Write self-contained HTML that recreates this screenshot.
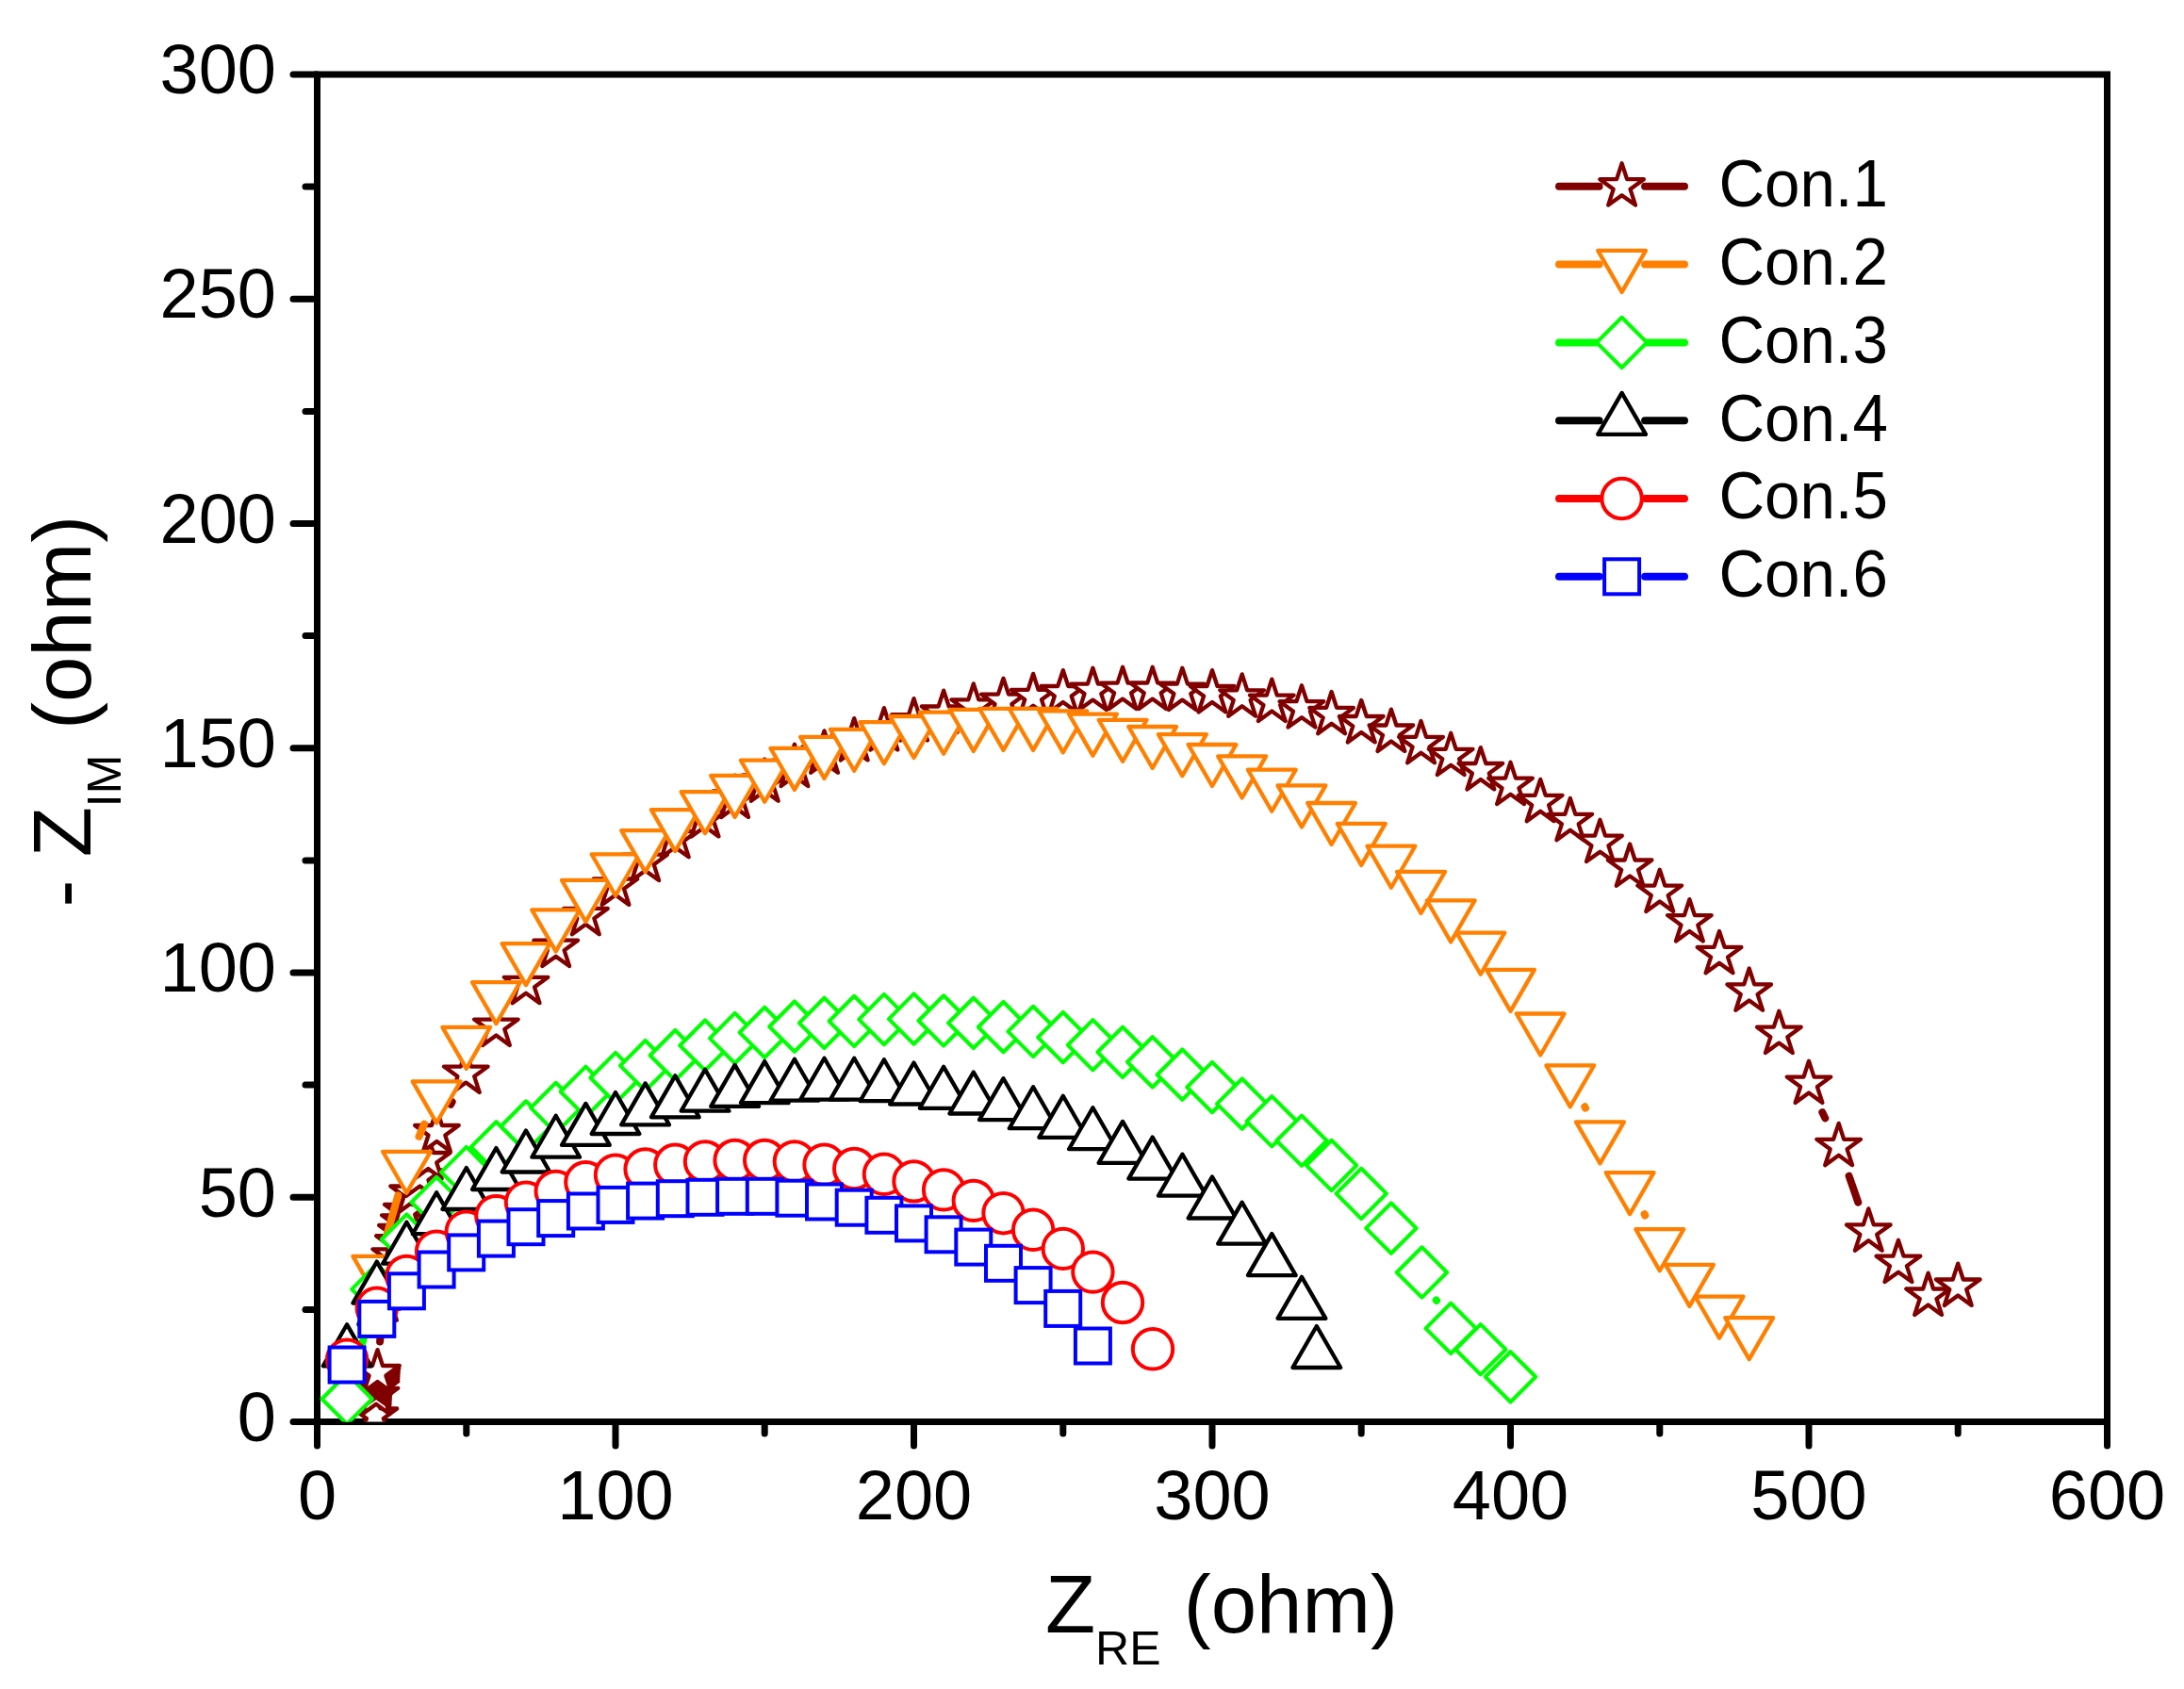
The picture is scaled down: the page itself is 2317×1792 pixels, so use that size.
<!DOCTYPE html>
<html><head><meta charset="utf-8"><title>Nyquist plot</title>
<style>html,body{margin:0;padding:0;background:#fff}svg{display:block}</style></head>
<body>
<svg width="2317" height="1792" viewBox="0 0 2317 1792">
<rect width="2317" height="1792" fill="#fff"/>
<defs><clipPath id="cp"><rect x="336.5" y="79.0" width="1899.0" height="1429.5"/></clipPath></defs>
<path d="M336.5 79.0H2235.5V1508.5H336.5Z" fill="none" stroke="#000" stroke-width="7" stroke-linejoin="miter"/>
<path d="M336.5 1508.5H311.0M336.5 1389.4H324.0M336.5 1270.2H311.0M336.5 1151.1H324.0M336.5 1032.0H311.0M336.5 912.9H324.0M336.5 793.8H311.0M336.5 674.6H324.0M336.5 555.5H311.0M336.5 436.4H324.0M336.5 317.2H311.0M336.5 198.1H324.0M336.5 79.0H311.0M336.5 1508.5V1534.0M494.8 1508.5V1521.0M653.0 1508.5V1534.0M811.2 1508.5V1521.0M969.5 1508.5V1534.0M1127.8 1508.5V1521.0M1286.0 1508.5V1534.0M1444.2 1508.5V1521.0M1602.5 1508.5V1534.0M1760.8 1508.5V1521.0M1919.0 1508.5V1534.0M2077.2 1508.5V1521.0M2235.5 1508.5V1534.0" fill="none" stroke="#000" stroke-width="7" stroke-linecap="round"/>
<g font-family="Liberation Sans, sans-serif" font-size="74" fill="#000">
<text x="293" y="1528.7" text-anchor="end">0</text>
<text x="293" y="1290.5" text-anchor="end">50</text>
<text x="293" y="1052.2" text-anchor="end">100</text>
<text x="293" y="814.0" text-anchor="end">150</text>
<text x="293" y="575.7" text-anchor="end">200</text>
<text x="293" y="337.4" text-anchor="end">250</text>
<text x="293" y="99.2" text-anchor="end">300</text>
<text x="336.5" y="1612" text-anchor="middle">0</text>
<text x="653.0" y="1612" text-anchor="middle">100</text>
<text x="969.5" y="1612" text-anchor="middle">200</text>
<text x="1286.0" y="1612" text-anchor="middle">300</text>
<text x="1602.5" y="1612" text-anchor="middle">400</text>
<text x="1919.0" y="1612" text-anchor="middle">500</text>
<text x="2235.5" y="1612" text-anchor="middle">600</text>
</g>
<text font-family="Liberation Sans, sans-serif" font-size="87" fill="#000" x="1108.9" y="1732.2">Z<tspan font-size="50" dy="33.8">RE</tspan><tspan dy="-33.8"> (ohm)</tspan></text>
<text font-family="Liberation Sans, sans-serif" font-size="87" fill="#000" transform="translate(95.5 962.5) rotate(-90)">- Z<tspan font-size="50" dy="32.5">IM</tspan><tspan dy="-32.5" dx="2.5"> (ohm)</tspan></text>
<g clip-path="url(#cp)">
<path d="M403.1 1423.5L403.9 1414.1M478.1 1171.8L479.6 1169.0M1933.3 1180.1L1936.3 1186.4M1961.6 1247.7L1971.3 1275.6" fill="none" stroke="#800000" stroke-width="8.0" stroke-linecap="round"/>
<g fill="#fff" stroke="#800000" stroke-width="4.3" stroke-linejoin="round" >
<path d="M397.9 1477.5L403.4 1494.4L421.2 1494.4L406.8 1504.9L412.3 1521.8L397.9 1511.4L383.4 1521.8L388.9 1504.9L374.5 1494.4L392.3 1494.4Z"/>
<path d="M399.0 1455.9L404.5 1472.8L422.3 1472.8L407.9 1483.3L413.4 1500.2L399.0 1489.8L384.6 1500.2L390.1 1483.3L375.7 1472.8L393.5 1472.8Z"/>
<path d="M399.0 1448.5L404.5 1465.4L422.3 1465.4L407.9 1475.9L413.4 1492.8L399.0 1482.4L384.6 1492.8L390.1 1475.9L375.7 1465.4L393.5 1465.4Z"/>
<path d="M399.1 1445.7L404.6 1462.6L422.4 1462.6L408.0 1473.1L413.5 1490.0L399.1 1479.6L384.7 1490.0L390.2 1473.1L375.8 1462.6L393.6 1462.6Z"/>
<path d="M399.2 1443.0L404.7 1459.9L422.5 1459.9L408.1 1470.4L413.6 1487.3L399.2 1476.9L384.8 1487.3L390.3 1470.4L375.9 1459.9L393.7 1459.9Z"/>
<path d="M399.3 1440.5L404.8 1457.4L422.6 1457.4L408.2 1467.9L413.7 1484.8L399.3 1474.4L384.9 1484.8L390.4 1467.9L376.0 1457.4L393.8 1457.4Z"/>
<path d="M399.5 1438.0L405.0 1454.9L422.8 1454.9L408.4 1465.4L413.9 1482.3L399.5 1471.9L385.1 1482.3L390.6 1465.4L376.2 1454.9L394.0 1454.9Z"/>
<path d="M400.0 1435.0L405.5 1451.9L423.3 1451.9L408.9 1462.4L414.4 1479.3L400.0 1468.9L385.6 1479.3L391.1 1462.4L376.7 1451.9L394.5 1451.9Z"/>
<path d="M400.5 1432.1L406.0 1449.0L423.8 1449.0L409.4 1459.5L414.9 1476.4L400.5 1466.0L386.1 1476.4L391.6 1459.5L377.2 1449.0L395.0 1449.0Z"/>
<path d="M406.5 1356.5L412.0 1373.4L429.8 1373.4L415.4 1383.9L420.9 1400.8L406.5 1390.4L392.1 1400.8L397.6 1383.9L383.2 1373.4L401.0 1373.4Z"/>
<path d="M409.5 1344.5L415.0 1361.4L432.8 1361.4L418.4 1371.9L423.9 1388.8L409.5 1378.4L395.1 1388.8L400.6 1371.9L386.2 1361.4L404.0 1361.4Z"/>
<path d="M412.5 1332.5L418.0 1349.4L435.8 1349.4L421.4 1359.9L426.9 1376.8L412.5 1366.4L398.1 1376.8L403.6 1359.9L389.2 1349.4L407.0 1349.4Z"/>
<path d="M415.5 1320.5L421.0 1337.4L438.8 1337.4L424.4 1347.9L429.9 1364.8L415.5 1354.4L401.1 1364.8L406.6 1347.9L392.2 1337.4L410.0 1337.4Z"/>
<path d="M418.7 1308.4L424.2 1325.3L442.0 1325.3L427.6 1335.8L433.1 1352.7L418.7 1342.3L404.3 1352.7L409.8 1335.8L395.4 1325.3L413.2 1325.3Z"/>
<path d="M422.4 1294.3L427.9 1311.2L445.7 1311.2L431.3 1321.7L436.8 1338.6L422.4 1328.2L408.0 1338.6L413.5 1321.7L399.1 1311.2L416.9 1311.2Z"/>
<path d="M425.4 1283.1L430.9 1300.0L448.7 1300.0L434.3 1310.5L439.8 1327.4L425.4 1317.0L411.0 1327.4L416.5 1310.5L402.1 1300.0L419.9 1300.0Z"/>
<path d="M428.4 1272.4L433.9 1289.3L451.7 1289.3L437.3 1299.8L442.8 1316.7L428.4 1306.3L414.0 1316.7L419.5 1299.8L405.1 1289.3L422.9 1289.3Z"/>
<path d="M431.3 1261.1L436.8 1278.0L454.6 1278.0L440.2 1288.5L445.7 1305.4L431.3 1295.0L416.9 1305.4L422.4 1288.5L408.0 1278.0L425.8 1278.0Z"/>
<path d="M437.6 1241.6L443.1 1258.5L460.9 1258.5L446.5 1269.0L452.0 1285.9L437.6 1275.5L423.2 1285.9L428.7 1269.0L414.3 1258.5L432.1 1258.5Z"/>
<path d="M445.5 1224.5L451.0 1241.4L468.8 1241.4L454.4 1251.9L459.9 1268.8L445.5 1258.4L431.1 1268.8L436.6 1251.9L422.2 1241.4L440.0 1241.4Z"/>
<path d="M454.3 1206.1L459.8 1223.0L477.6 1223.0L463.2 1233.5L468.7 1250.4L454.3 1240.0L439.9 1250.4L445.4 1233.5L431.0 1223.0L448.8 1223.0Z"/>
<path d="M463.4 1177.1L468.9 1194.0L486.7 1194.0L472.3 1204.5L477.8 1221.4L463.4 1211.0L449.0 1221.4L454.5 1204.5L440.1 1194.0L457.9 1194.0Z"/>
<path d="M494.3 1114.7L499.8 1131.6L517.6 1131.6L503.2 1142.1L508.7 1159.0L494.3 1148.6L479.9 1159.0L485.4 1142.1L471.0 1131.6L488.8 1131.6Z"/>
<path d="M526.4 1064.7L531.9 1081.6L549.7 1081.6L535.3 1092.1L540.8 1109.0L526.4 1098.5L512.0 1109.0L517.5 1092.1L503.1 1081.6L520.9 1081.6Z"/>
<path d="M558.0 1019.9L563.6 1036.8L581.4 1036.8L567.0 1047.3L572.5 1064.2L558.0 1053.7L543.6 1064.2L549.1 1047.3L534.7 1036.8L552.5 1036.8Z"/>
<path d="M589.7 980.8L595.2 997.7L613.0 997.7L598.6 1008.2L604.1 1025.1L589.7 1014.7L575.3 1025.1L580.8 1008.2L566.4 997.7L584.2 997.7Z"/>
<path d="M621.4 947.0L626.9 963.9L644.7 963.9L630.3 974.4L635.8 991.3L621.4 980.8L606.9 991.3L612.4 974.4L598.0 963.9L615.8 963.9Z"/>
<path d="M653.0 915.5L658.5 932.5L676.3 932.5L661.9 942.9L667.4 959.9L653.0 949.4L638.6 959.9L644.1 942.9L629.7 932.5L647.5 932.5Z"/>
<path d="M684.6 889.8L690.2 906.7L708.0 906.7L693.6 917.2L699.1 934.1L684.6 923.7L670.2 934.1L675.7 917.2L661.3 906.7L679.1 906.7Z"/>
<path d="M716.3 865.0L721.8 882.0L739.6 882.0L725.2 892.4L730.7 909.3L716.3 898.9L701.9 909.3L707.4 892.4L693.0 882.0L710.8 882.0Z"/>
<path d="M748.0 843.1L753.5 860.0L771.3 860.0L756.9 870.5L762.4 887.4L748.0 877.0L733.5 887.4L739.0 870.5L724.6 860.0L742.4 860.0Z"/>
<path d="M779.6 822.6L785.1 839.5L802.9 839.5L788.5 850.0L794.0 866.9L779.6 856.5L765.2 866.9L770.7 850.0L756.3 839.5L774.1 839.5Z"/>
<path d="M811.2 805.5L816.8 822.4L834.6 822.4L820.2 832.9L825.7 849.8L811.2 839.3L796.8 849.8L802.3 832.9L787.9 822.4L805.7 822.4Z"/>
<path d="M842.9 789.7L848.4 806.7L866.2 806.7L851.8 817.1L857.3 834.1L842.9 823.6L828.5 834.1L834.0 817.1L819.6 806.7L837.4 806.7Z"/>
<path d="M874.5 775.4L880.1 792.4L897.9 792.4L883.5 802.8L889.0 819.8L874.5 809.3L860.1 819.8L865.6 802.8L851.2 792.4L869.0 792.4Z"/>
<path d="M906.2 762.1L911.7 779.0L929.5 779.0L915.1 789.5L920.6 806.4L906.2 796.0L891.8 806.4L897.3 789.5L882.9 779.0L900.7 779.0Z"/>
<path d="M937.9 751.1L943.4 768.1L961.2 768.1L946.8 778.5L952.3 795.5L937.9 785.0L923.4 795.5L928.9 778.5L914.5 768.1L932.3 768.1Z"/>
<path d="M969.5 741.1L975.0 758.1L992.8 758.1L978.4 768.5L983.9 785.5L969.5 775.0L955.1 785.5L960.6 768.5L946.2 758.1L964.0 758.1Z"/>
<path d="M1001.1 732.6L1006.7 749.5L1024.5 749.5L1010.1 760.0L1015.6 776.9L1001.1 766.4L986.7 776.9L992.2 760.0L977.8 749.5L995.6 749.5Z"/>
<path d="M1032.8 725.4L1038.3 742.3L1056.1 742.3L1041.7 752.8L1047.2 769.7L1032.8 759.3L1018.4 769.7L1023.9 752.8L1009.5 742.3L1027.3 742.3Z"/>
<path d="M1064.5 719.7L1070.0 736.6L1087.8 736.6L1073.4 747.1L1078.9 764.0L1064.5 753.6L1050.0 764.0L1055.5 747.1L1041.1 736.6L1058.9 736.6Z"/>
<path d="M1096.1 714.9L1101.6 731.9L1119.4 731.9L1105.0 742.3L1110.5 759.2L1096.1 748.8L1081.7 759.2L1087.2 742.3L1072.8 731.9L1090.6 731.9Z"/>
<path d="M1127.8 711.1L1133.3 728.0L1151.1 728.0L1136.7 738.5L1142.2 755.4L1127.8 745.0L1113.3 755.4L1118.8 738.5L1104.4 728.0L1122.2 728.0Z"/>
<path d="M1159.4 708.7L1164.9 725.7L1182.7 725.7L1168.3 736.1L1173.8 753.1L1159.4 742.6L1145.0 753.1L1150.5 736.1L1136.1 725.7L1153.9 725.7Z"/>
<path d="M1191.0 707.8L1196.6 724.7L1214.4 724.7L1200.0 735.2L1205.5 752.1L1191.0 741.6L1176.6 752.1L1182.1 735.2L1167.7 724.7L1185.5 724.7Z"/>
<path d="M1222.7 707.8L1228.2 724.7L1246.0 724.7L1231.6 735.2L1237.1 752.1L1222.7 741.6L1208.3 752.1L1213.8 735.2L1199.4 724.7L1217.2 724.7Z"/>
<path d="M1254.3 708.7L1259.9 725.7L1277.7 725.7L1263.3 736.1L1268.8 753.1L1254.3 742.6L1239.9 753.1L1245.4 736.1L1231.0 725.7L1248.8 725.7Z"/>
<path d="M1286.0 711.1L1291.5 728.0L1309.3 728.0L1294.9 738.5L1300.4 755.4L1286.0 745.0L1271.6 755.4L1277.1 738.5L1262.7 728.0L1280.5 728.0Z"/>
<path d="M1317.7 715.4L1323.2 732.3L1341.0 732.3L1326.6 742.8L1332.1 759.7L1317.7 749.3L1303.2 759.7L1308.7 742.8L1294.3 732.3L1312.1 732.3Z"/>
<path d="M1349.3 720.6L1354.8 737.6L1372.6 737.6L1358.2 748.0L1363.7 765.0L1349.3 754.5L1334.9 765.0L1340.4 748.0L1326.0 737.6L1343.8 737.6Z"/>
<path d="M1381.0 727.3L1386.5 744.2L1404.3 744.2L1389.9 754.7L1395.4 771.6L1381.0 761.2L1366.5 771.6L1372.0 754.7L1357.6 744.2L1375.4 744.2Z"/>
<path d="M1412.6 734.0L1418.1 750.9L1435.9 750.9L1421.5 761.4L1427.0 778.3L1412.6 767.8L1398.2 778.3L1403.7 761.4L1389.3 750.9L1407.1 750.9Z"/>
<path d="M1444.2 743.0L1449.8 760.0L1467.6 760.0L1453.2 770.4L1458.7 787.4L1444.2 776.9L1429.8 787.4L1435.3 770.4L1420.9 760.0L1438.7 760.0Z"/>
<path d="M1475.9 752.6L1481.4 769.5L1499.2 769.5L1484.8 780.0L1490.3 796.9L1475.9 786.4L1461.5 796.9L1467.0 780.0L1452.6 769.5L1470.4 769.5Z"/>
<path d="M1507.5 765.0L1513.1 781.9L1530.9 781.9L1516.5 792.4L1522.0 809.3L1507.5 798.8L1493.1 809.3L1498.6 792.4L1484.2 781.9L1502.0 781.9Z"/>
<path d="M1539.2 777.8L1544.7 794.8L1562.5 794.8L1548.1 805.2L1553.6 822.1L1539.2 811.7L1524.8 822.1L1530.3 805.2L1515.9 794.8L1533.7 794.8Z"/>
<path d="M1570.8 793.1L1576.4 810.0L1594.2 810.0L1579.8 820.5L1585.3 837.4L1570.8 826.9L1556.4 837.4L1561.9 820.5L1547.5 810.0L1565.3 810.0Z"/>
<path d="M1602.5 808.8L1608.0 825.7L1625.8 825.7L1611.4 836.2L1616.9 853.1L1602.5 842.7L1588.1 853.1L1593.6 836.2L1579.2 825.7L1597.0 825.7Z"/>
<path d="M1634.2 826.9L1639.7 843.8L1657.5 843.8L1643.1 854.3L1648.6 871.2L1634.2 860.8L1619.7 871.2L1625.2 854.3L1610.8 843.8L1628.6 843.8Z"/>
<path d="M1665.8 846.9L1671.3 863.8L1689.1 863.8L1674.7 874.3L1680.2 891.2L1665.8 880.8L1651.4 891.2L1656.9 874.3L1642.5 863.8L1660.3 863.8Z"/>
<path d="M1697.5 869.8L1703.0 886.7L1720.8 886.7L1706.4 897.2L1711.9 914.1L1697.5 903.7L1683.0 914.1L1688.5 897.2L1674.1 886.7L1691.9 886.7Z"/>
<path d="M1729.1 895.5L1734.6 912.5L1752.4 912.5L1738.0 922.9L1743.5 939.8L1729.1 929.4L1714.7 939.8L1720.2 922.9L1705.8 912.5L1723.6 912.5Z"/>
<path d="M1760.8 922.7L1766.3 939.6L1784.1 939.6L1769.7 950.1L1775.2 967.0L1760.8 956.5L1746.3 967.0L1751.8 950.1L1737.4 939.6L1755.2 939.6Z"/>
<path d="M1792.4 954.1L1797.9 971.1L1815.7 971.1L1801.3 981.5L1806.8 998.5L1792.4 988.0L1778.0 998.5L1783.5 981.5L1769.1 971.1L1786.9 971.1Z"/>
<path d="M1824.0 988.0L1829.6 1004.9L1847.4 1004.9L1833.0 1015.4L1838.5 1032.3L1824.0 1021.8L1809.6 1032.3L1815.1 1015.4L1800.7 1004.9L1818.5 1004.9Z"/>
<path d="M1855.7 1027.5L1861.2 1044.4L1879.0 1044.4L1864.6 1054.9L1870.1 1071.8L1855.7 1061.4L1841.3 1071.8L1846.8 1054.9L1832.4 1044.4L1850.2 1044.4Z"/>
<path d="M1887.3 1072.8L1892.9 1089.7L1910.7 1089.7L1896.3 1100.2L1901.8 1117.1L1887.3 1106.6L1872.9 1117.1L1878.4 1100.2L1864.0 1089.7L1881.8 1089.7Z"/>
<path d="M1919.0 1125.7L1924.5 1142.6L1942.3 1142.6L1927.9 1153.1L1933.4 1170.0L1919.0 1159.5L1904.6 1170.0L1910.1 1153.1L1895.7 1142.6L1913.5 1142.6Z"/>
<path d="M1950.7 1191.9L1956.2 1208.8L1974.0 1208.8L1959.6 1219.3L1965.1 1236.2L1950.7 1225.8L1936.2 1236.2L1941.7 1219.3L1927.3 1208.8L1945.1 1208.8Z"/>
<path d="M1982.3 1282.4L1987.8 1299.4L2005.6 1299.4L1991.2 1309.8L1996.7 1326.8L1982.3 1316.3L1967.9 1326.8L1973.4 1309.8L1959.0 1299.4L1976.8 1299.4Z"/>
<path d="M2014.0 1315.8L2019.5 1332.7L2037.3 1332.7L2022.9 1343.2L2028.4 1360.1L2014.0 1349.7L1999.5 1360.1L2005.0 1343.2L1990.6 1332.7L2008.4 1332.7Z"/>
<path d="M2045.6 1350.6L2051.1 1367.5L2068.9 1367.5L2054.5 1378.0L2060.0 1394.9L2045.6 1384.4L2031.2 1394.9L2036.7 1378.0L2022.3 1367.5L2040.1 1367.5Z"/>
<path d="M2077.2 1340.6L2082.8 1357.5L2100.6 1357.5L2086.2 1368.0L2091.7 1384.9L2077.2 1374.4L2062.8 1384.9L2068.3 1368.0L2053.9 1357.5L2071.7 1357.5Z"/>
</g>
<path d="M408.9 1315.5L422.3 1268.3M444.5 1205.9L450.1 1192.6M1681.3 1174.3L1682.0 1175.6M1744.6 1288.2L1745.3 1289.5" fill="none" stroke="#ff8000" stroke-width="8.0" stroke-linecap="round"/>
<g fill="#fff" stroke="#ff8000" stroke-width="4.3" stroke-linejoin="round" >
<path d="M399.8 1376.8L425.2 1332.8L374.4 1332.8Z"/>
<path d="M431.4 1265.7L456.8 1221.8L406.1 1221.8Z"/>
<path d="M463.1 1191.4L488.5 1147.4L437.7 1147.4Z"/>
<path d="M494.8 1133.8L520.1 1089.8L469.4 1089.8Z"/>
<path d="M526.4 1086.1L551.8 1042.1L501.0 1042.1Z"/>
<path d="M558.0 1045.1L583.4 1001.1L532.6 1001.1Z"/>
<path d="M589.7 1009.4L615.1 965.4L564.3 965.4Z"/>
<path d="M621.4 977.9L646.8 933.9L596.0 933.9Z"/>
<path d="M653.0 950.3L678.4 906.3L627.6 906.3Z"/>
<path d="M684.6 925.1L710.0 881.1L659.2 881.1Z"/>
<path d="M716.3 903.1L741.7 859.1L690.9 859.1Z"/>
<path d="M748.0 884.1L773.4 840.1L722.6 840.1Z"/>
<path d="M779.6 866.9L805.0 822.9L754.2 822.9Z"/>
<path d="M811.2 850.7L836.6 806.7L785.9 806.7Z"/>
<path d="M842.9 837.9L868.3 793.9L817.5 793.9Z"/>
<path d="M874.5 825.9L899.9 781.9L849.1 781.9Z"/>
<path d="M906.2 817.8L931.6 773.8L880.8 773.8Z"/>
<path d="M937.9 810.2L963.2 766.2L912.5 766.2Z"/>
<path d="M969.5 804.0L994.9 760.0L944.1 760.0Z"/>
<path d="M1001.1 799.7L1026.5 755.7L975.8 755.7Z"/>
<path d="M1032.8 796.9L1058.2 752.9L1007.4 752.9Z"/>
<path d="M1064.5 795.9L1089.9 751.9L1039.0 751.9Z"/>
<path d="M1096.1 795.9L1121.5 751.9L1070.7 751.9Z"/>
<path d="M1127.8 798.3L1153.2 754.3L1102.3 754.3Z"/>
<path d="M1159.4 801.6L1184.8 757.6L1134.0 757.6Z"/>
<path d="M1191.0 807.8L1216.5 763.8L1165.6 763.8Z"/>
<path d="M1222.7 815.0L1248.1 771.0L1197.3 771.0Z"/>
<path d="M1254.3 823.1L1279.8 779.1L1228.9 779.1Z"/>
<path d="M1286.0 834.0L1311.4 790.0L1260.6 790.0Z"/>
<path d="M1317.7 846.4L1343.1 802.4L1292.2 802.4Z"/>
<path d="M1349.3 860.7L1374.7 816.7L1323.9 816.7Z"/>
<path d="M1381.0 877.4L1406.4 833.4L1355.5 833.4Z"/>
<path d="M1412.6 896.0L1438.0 852.0L1387.2 852.0Z"/>
<path d="M1444.2 917.9L1469.7 873.9L1418.8 873.9Z"/>
<path d="M1475.9 941.7L1501.3 897.7L1450.5 897.7Z"/>
<path d="M1507.5 968.9L1533.0 924.9L1482.1 924.9Z"/>
<path d="M1539.2 999.4L1564.6 955.4L1513.8 955.4Z"/>
<path d="M1570.8 1033.7L1596.2 989.7L1545.4 989.7Z"/>
<path d="M1602.5 1072.8L1627.9 1028.8L1577.1 1028.8Z"/>
<path d="M1634.2 1119.5L1659.6 1075.5L1608.8 1075.5Z"/>
<path d="M1665.8 1174.3L1691.2 1130.3L1640.4 1130.3Z"/>
<path d="M1697.5 1234.3L1722.9 1190.3L1672.0 1190.3Z"/>
<path d="M1729.1 1288.1L1754.5 1244.1L1703.7 1244.1Z"/>
<path d="M1760.8 1348.2L1786.2 1304.2L1735.3 1304.2Z"/>
<path d="M1792.4 1385.8L1817.8 1341.8L1767.0 1341.8Z"/>
<path d="M1824.0 1419.7L1849.5 1375.7L1798.6 1375.7Z"/>
<path d="M1855.7 1442.1L1881.1 1398.1L1830.3 1398.1Z"/>
</g>
<path d="M376.9 1452.2L391.1 1400.0M1523.7 1379.5L1524.0 1379.9" fill="none" stroke="#00ff00" stroke-width="8.0" stroke-linecap="round"/>
<g fill="#fff" stroke="#00ff00" stroke-width="4.1" stroke-linejoin="round" >
<path d="M368.1 1457.5L394.8 1484.2L368.1 1510.8L341.5 1484.2Z"/>
<path d="M399.8 1341.3L426.4 1367.9L399.8 1394.6L373.2 1367.9Z"/>
<path d="M431.4 1288.4L458.1 1315.0L431.4 1341.7L404.8 1315.0Z"/>
<path d="M463.1 1248.8L489.8 1275.5L463.1 1302.1L436.5 1275.5Z"/>
<path d="M494.8 1216.9L521.4 1243.6L494.8 1270.2L468.1 1243.6Z"/>
<path d="M526.4 1190.2L553.0 1216.9L526.4 1243.5L499.8 1216.9Z"/>
<path d="M558.0 1168.3L584.7 1195.0L558.0 1221.6L531.4 1195.0Z"/>
<path d="M589.7 1148.8L616.4 1175.4L589.7 1202.1L563.1 1175.4Z"/>
<path d="M621.4 1131.6L648.0 1158.3L621.4 1184.9L594.7 1158.3Z"/>
<path d="M653.0 1116.9L679.6 1143.5L653.0 1170.2L626.4 1143.5Z"/>
<path d="M684.6 1104.0L711.3 1130.6L684.6 1157.3L658.0 1130.6Z"/>
<path d="M716.3 1093.0L742.9 1119.7L716.3 1146.3L689.6 1119.7Z"/>
<path d="M748.0 1082.5L774.6 1109.2L748.0 1135.8L721.3 1109.2Z"/>
<path d="M779.6 1074.9L806.2 1101.6L779.6 1128.2L753.0 1101.6Z"/>
<path d="M811.2 1068.7L837.9 1095.4L811.2 1122.0L784.6 1095.4Z"/>
<path d="M842.9 1062.5L869.5 1089.2L842.9 1115.8L816.2 1089.2Z"/>
<path d="M874.5 1058.7L901.2 1085.4L874.5 1112.0L847.9 1085.4Z"/>
<path d="M906.2 1056.8L932.9 1083.5L906.2 1110.1L879.6 1083.5Z"/>
<path d="M937.9 1054.9L964.5 1081.6L937.9 1108.2L911.2 1081.6Z"/>
<path d="M969.5 1054.4L996.1 1081.1L969.5 1107.7L942.9 1081.1Z"/>
<path d="M1001.1 1056.3L1027.8 1083.0L1001.1 1109.6L974.5 1083.0Z"/>
<path d="M1032.8 1058.7L1059.5 1085.4L1032.8 1112.0L1006.1 1085.4Z"/>
<path d="M1064.5 1063.0L1091.1 1089.7L1064.5 1116.3L1037.8 1089.7Z"/>
<path d="M1096.1 1067.8L1122.8 1094.4L1096.1 1121.1L1069.4 1094.4Z"/>
<path d="M1127.8 1074.0L1154.4 1100.6L1127.8 1127.3L1101.1 1100.6Z"/>
<path d="M1159.4 1082.1L1186.1 1108.7L1159.4 1135.4L1132.8 1108.7Z"/>
<path d="M1191.0 1089.7L1217.7 1116.3L1191.0 1143.0L1164.4 1116.3Z"/>
<path d="M1222.7 1100.2L1249.4 1126.8L1222.7 1153.5L1196.0 1126.8Z"/>
<path d="M1254.3 1113.5L1281.0 1140.2L1254.3 1166.8L1227.7 1140.2Z"/>
<path d="M1286.0 1126.9L1312.7 1153.5L1286.0 1180.2L1259.3 1153.5Z"/>
<path d="M1317.7 1144.5L1344.3 1171.1L1317.7 1197.8L1291.0 1171.1Z"/>
<path d="M1349.3 1163.1L1376.0 1189.7L1349.3 1216.4L1322.6 1189.7Z"/>
<path d="M1381.0 1183.6L1407.6 1210.2L1381.0 1236.9L1354.3 1210.2Z"/>
<path d="M1412.6 1209.8L1439.2 1236.4L1412.6 1263.1L1385.9 1236.4Z"/>
<path d="M1444.2 1239.8L1470.9 1266.4L1444.2 1293.1L1417.6 1266.4Z"/>
<path d="M1475.9 1276.5L1502.6 1303.1L1475.9 1329.8L1449.2 1303.1Z"/>
<path d="M1508.5 1323.3L1535.1 1350.0L1508.5 1376.6L1481.8 1350.0Z"/>
<path d="M1539.2 1382.7L1565.9 1409.4L1539.2 1436.0L1512.5 1409.4Z"/>
<path d="M1570.8 1405.1L1597.5 1431.8L1570.8 1458.4L1544.2 1431.8Z"/>
<path d="M1602.5 1434.2L1629.2 1460.8L1602.5 1487.5L1575.8 1460.8Z"/>
</g>
<path d="M382.4 1404.6L385.6 1397.9" fill="none" stroke="#000000" stroke-width="8.0" stroke-linecap="round"/>
<g fill="#fff" stroke="#000000" stroke-width="4.3" stroke-linejoin="round" >
<path d="M368.1 1405.3L393.5 1449.3L342.8 1449.3Z"/>
<path d="M399.8 1338.6L425.2 1382.6L374.4 1382.6Z"/>
<path d="M431.4 1296.7L456.8 1340.7L406.1 1340.7Z"/>
<path d="M463.1 1265.2L488.5 1309.2L437.7 1309.2Z"/>
<path d="M494.8 1239.0L520.1 1283.0L469.4 1283.0Z"/>
<path d="M526.4 1218.0L551.8 1262.0L501.0 1262.0Z"/>
<path d="M558.0 1199.5L583.4 1243.5L532.6 1243.5Z"/>
<path d="M589.7 1183.7L615.1 1227.7L564.3 1227.7Z"/>
<path d="M621.4 1170.9L646.8 1214.9L596.0 1214.9Z"/>
<path d="M653.0 1159.0L678.4 1203.0L627.6 1203.0Z"/>
<path d="M684.6 1149.4L710.0 1193.4L659.2 1193.4Z"/>
<path d="M716.3 1141.3L741.7 1185.3L690.9 1185.3Z"/>
<path d="M748.0 1134.7L773.4 1178.7L722.6 1178.7Z"/>
<path d="M779.6 1129.9L805.0 1173.9L754.2 1173.9Z"/>
<path d="M811.2 1126.1L836.6 1170.1L785.9 1170.1Z"/>
<path d="M842.9 1123.7L868.3 1167.7L817.5 1167.7Z"/>
<path d="M874.5 1122.7L899.9 1166.7L849.1 1166.7Z"/>
<path d="M906.2 1122.7L931.6 1166.7L880.8 1166.7Z"/>
<path d="M937.9 1124.2L963.2 1168.2L912.5 1168.2Z"/>
<path d="M969.5 1127.5L994.9 1171.5L944.1 1171.5Z"/>
<path d="M1001.1 1131.8L1026.5 1175.8L975.8 1175.8Z"/>
<path d="M1032.8 1137.5L1058.2 1181.5L1007.4 1181.5Z"/>
<path d="M1064.5 1144.2L1089.9 1188.2L1039.0 1188.2Z"/>
<path d="M1096.1 1153.2L1121.5 1197.2L1070.7 1197.2Z"/>
<path d="M1127.8 1162.8L1153.2 1206.8L1102.3 1206.8Z"/>
<path d="M1159.4 1175.2L1184.8 1219.2L1134.0 1219.2Z"/>
<path d="M1191.0 1189.9L1216.5 1233.9L1165.6 1233.9Z"/>
<path d="M1222.7 1206.6L1248.1 1250.6L1197.3 1250.6Z"/>
<path d="M1254.3 1224.7L1279.8 1268.7L1228.9 1268.7Z"/>
<path d="M1286.0 1248.5L1311.4 1292.5L1260.6 1292.5Z"/>
<path d="M1317.7 1275.7L1343.1 1319.7L1292.2 1319.7Z"/>
<path d="M1349.3 1309.1L1374.7 1353.1L1323.9 1353.1Z"/>
<path d="M1381.0 1354.8L1406.4 1398.8L1355.5 1398.8Z"/>
<path d="M1396.8 1407.0L1422.2 1451.0L1371.4 1451.0Z"/>
</g>
<g fill="#fff" stroke="#ff0000" stroke-width="4.0" stroke-linejoin="round" >
<circle cx="368.1" cy="1442.6" r="21.2"/>
<circle cx="399.8" cy="1387.8" r="21.2"/>
<circle cx="431.4" cy="1353.9" r="21.2"/>
<circle cx="463.1" cy="1327.7" r="21.2"/>
<circle cx="494.8" cy="1306.7" r="21.2"/>
<circle cx="526.4" cy="1290.1" r="21.2"/>
<circle cx="558.0" cy="1275.8" r="21.2"/>
<circle cx="589.7" cy="1263.9" r="21.2"/>
<circle cx="621.4" cy="1254.3" r="21.2"/>
<circle cx="653.0" cy="1246.7" r="21.2"/>
<circle cx="684.6" cy="1240.5" r="21.2"/>
<circle cx="716.3" cy="1235.8" r="21.2"/>
<circle cx="748.0" cy="1232.4" r="21.2"/>
<circle cx="779.6" cy="1231.0" r="21.2"/>
<circle cx="811.2" cy="1231.0" r="21.2"/>
<circle cx="842.9" cy="1232.4" r="21.2"/>
<circle cx="874.5" cy="1235.8" r="21.2"/>
<circle cx="906.2" cy="1240.0" r="21.2"/>
<circle cx="937.9" cy="1245.8" r="21.2"/>
<circle cx="969.5" cy="1253.4" r="21.2"/>
<circle cx="1001.1" cy="1262.4" r="21.2"/>
<circle cx="1032.8" cy="1273.9" r="21.2"/>
<circle cx="1064.5" cy="1287.2" r="21.2"/>
<circle cx="1096.1" cy="1304.8" r="21.2"/>
<circle cx="1127.8" cy="1324.9" r="21.2"/>
<circle cx="1159.4" cy="1349.6" r="21.2"/>
<circle cx="1191.0" cy="1382.0" r="21.2"/>
<circle cx="1223.0" cy="1431.3" r="21.2"/>
</g>
<g fill="#fff" stroke="#0000ff" stroke-width="4.0" stroke-linejoin="miter" >
<rect x="349.6" y="1429.5" width="37.0" height="37.0"/>
<rect x="381.3" y="1380.9" width="37.0" height="37.0"/>
<rect x="412.9" y="1351.3" width="37.0" height="37.0"/>
<rect x="444.6" y="1328.5" width="37.0" height="37.0"/>
<rect x="476.2" y="1310.4" width="37.0" height="37.0"/>
<rect x="507.9" y="1295.6" width="37.0" height="37.0"/>
<rect x="539.5" y="1283.2" width="37.0" height="37.0"/>
<rect x="571.2" y="1274.1" width="37.0" height="37.0"/>
<rect x="602.9" y="1266.5" width="37.0" height="37.0"/>
<rect x="634.5" y="1259.9" width="37.0" height="37.0"/>
<rect x="666.1" y="1255.6" width="37.0" height="37.0"/>
<rect x="697.8" y="1253.2" width="37.0" height="37.0"/>
<rect x="729.5" y="1251.8" width="37.0" height="37.0"/>
<rect x="761.1" y="1250.8" width="37.0" height="37.0"/>
<rect x="792.8" y="1250.8" width="37.0" height="37.0"/>
<rect x="824.4" y="1252.7" width="37.0" height="37.0"/>
<rect x="856.0" y="1256.5" width="37.0" height="37.0"/>
<rect x="887.7" y="1262.7" width="37.0" height="37.0"/>
<rect x="919.4" y="1270.8" width="37.0" height="37.0"/>
<rect x="951.0" y="1279.4" width="37.0" height="37.0"/>
<rect x="982.6" y="1291.3" width="37.0" height="37.0"/>
<rect x="1014.3" y="1304.6" width="37.0" height="37.0"/>
<rect x="1046.0" y="1321.8" width="37.0" height="37.0"/>
<rect x="1077.6" y="1345.1" width="37.0" height="37.0"/>
<rect x="1109.2" y="1369.9" width="37.0" height="37.0"/>
<rect x="1140.9" y="1409.5" width="37.0" height="37.0"/>
</g>
</g>
<path d="M1654.0 197.8H1696.6M1745.1 197.8H1787.0" stroke="#800000" stroke-width="8" stroke-linecap="round" fill="none"/>
<g fill="#fff" stroke="#800000" stroke-width="4.3" stroke-linejoin="round"><path d="M1720.6 173.3L1726.1 190.2L1743.9 190.2L1729.5 200.7L1735.0 217.6L1720.6 207.2L1706.2 217.6L1711.7 200.7L1697.3 190.2L1715.1 190.2Z"/></g>
<text font-family="Liberation Sans, sans-serif" font-size="67.3" fill="#000" transform="translate(1823.4 219.1) scale(1 1.06)">Con.1</text>
<path d="M1654.0 280.6H1696.6M1745.1 280.6H1787.0" stroke="#ff8000" stroke-width="8" stroke-linecap="round" fill="none"/>
<g fill="#fff" stroke="#ff8000" stroke-width="4.3" stroke-linejoin="round"><path d="M1720.6 309.9L1746.0 265.9L1695.2 265.9Z"/></g>
<text font-family="Liberation Sans, sans-serif" font-size="67.3" fill="#000" transform="translate(1823.4 301.9) scale(1 1.06)">Con.2</text>
<path d="M1654.0 363.4H1696.6M1745.1 363.4H1787.0" stroke="#00ff00" stroke-width="8" stroke-linecap="round" fill="none"/>
<g fill="#fff" stroke="#00ff00" stroke-width="4.1" stroke-linejoin="round"><path d="M1720.6 336.8L1747.2 363.4L1720.6 390.0L1693.9 363.4Z"/></g>
<text font-family="Liberation Sans, sans-serif" font-size="67.3" fill="#000" transform="translate(1823.4 384.7) scale(1 1.06)">Con.3</text>
<path d="M1654.0 446.2H1696.6M1745.1 446.2H1787.0" stroke="#000000" stroke-width="8" stroke-linecap="round" fill="none"/>
<g fill="#fff" stroke="#000000" stroke-width="4.3" stroke-linejoin="round"><path d="M1720.6 416.9L1746.0 460.9L1695.2 460.9Z"/></g>
<text font-family="Liberation Sans, sans-serif" font-size="67.3" fill="#000" transform="translate(1823.4 467.5) scale(1 1.06)">Con.4</text>
<path d="M1654.0 529.0H1696.6M1745.1 529.0H1787.0" stroke="#ff0000" stroke-width="8" stroke-linecap="round" fill="none"/>
<g fill="#fff" stroke="#ff0000" stroke-width="4.0" stroke-linejoin="round"><circle cx="1720.6" cy="529.0" r="21.2"/></g>
<text font-family="Liberation Sans, sans-serif" font-size="67.3" fill="#000" transform="translate(1823.4 550.3) scale(1 1.06)">Con.5</text>
<path d="M1654.0 611.8H1696.6M1745.1 611.8H1787.0" stroke="#0000ff" stroke-width="8" stroke-linecap="round" fill="none"/>
<g fill="#fff" stroke="#0000ff" stroke-width="4.0" stroke-linejoin="miter"><rect x="1702.1" y="593.3" width="37.0" height="37.0"/></g>
<text font-family="Liberation Sans, sans-serif" font-size="67.3" fill="#000" transform="translate(1823.4 633.1) scale(1 1.06)">Con.6</text>
</svg>
</body></html>
